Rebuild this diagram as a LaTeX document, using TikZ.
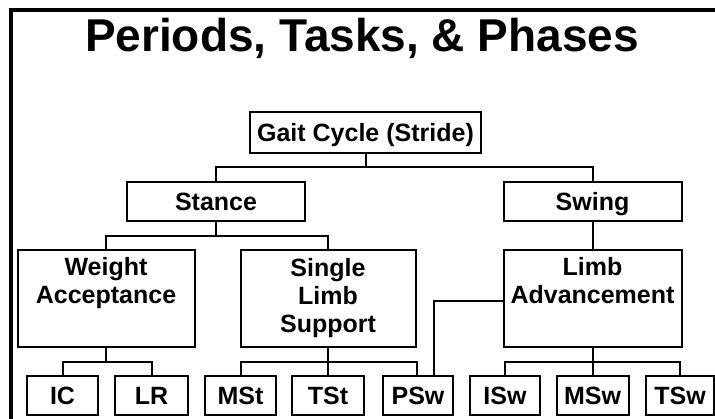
\documentclass[tikz,border=0pt]{standalone}
\usepackage{fontspec}
\setmainfont{Liberation Sans}
\begin{document}
\begin{tikzpicture}[x=1pt,y=-1pt,
  box/.style={draw, line width=2pt, rectangle, inner sep=0pt,
    font=\bfseries\fontsize{25}{28}\selectfont, align=center},
  single/.style={box, text height=18pt, text depth=0pt},
  wide/.style={single, minimum width=178, minimum height=39},
  tall/.style={box, minimum width=177, minimum height=97},
  leaf/.style={single, minimum width=71, minimum height=39},
  link/.style={line width=2pt},
  frame/.style={line width=3.5pt}]
\useasboundingbox (0,0) rectangle (715,418);
% frame
\draw[frame] (11,420) -- (11,10) -- (716,10);
% title
\node[font=\bfseries\fontsize{46}{50}\selectfont, anchor=base] (title) at (362,51) {Periods, Tasks, \& Phases};
% level 1
\node[single, minimum width=231, minimum height=41] (gait) at (365.5,132.5) {Gait Cycle (Stride)};
% level 2
\node[wide] (stance) at (216,201.5) {Stance};
\node[wide] (swing) at (592.5,201.5) {Swing};
% level 3
\node[tall] (wa) at (106,298.5) {Weight\\Acceptance\\\strut};
\node[tall, minimum width=175] (sls) at (328,298.5) {Single\\Limb\\Support};
\node[tall, minimum width=178] (la) at (592.5,298.5) {Limb\\Advancement\\\strut};
% level 4
\node[leaf] (ic) at (62.5,395.5) {IC};
\node[leaf, minimum width=73] (lr) at (151.5,395.5) {LR};
\node[leaf] (mst) at (240.5,395.5) {MSt};
\node[leaf, minimum width=72] (tst) at (328,395.5) {TSt};
\node[leaf, minimum width=70] (psw) at (418,395.5) {PSw};
\node[leaf, minimum width=70] (isw) at (505,395.5) {ISw};
\node[leaf, minimum width=72] (msw) at (592.5,395.5) {MSw};
\node[leaf, minimum width=68] (tsw) at (680,395.5) {TSw};
% junctions
\coordinate (j1) at (365.5,167);
\coordinate (j2) at (216,236);
\coordinate (j3) at (106,362);
\coordinate (j4) at (328,362);
\coordinate (j5) at (592.5,362);
% connectors
\draw[link] (gait.south) -- (j1);
\draw[link] (stance.north) |- (j1) -| (swing.north);
\draw[link] (stance.south) -- (j2);
\draw[link] (wa.north) |- (j2) -| (sls.north);
\draw[link] (swing.south) -- (la.north);
\draw[link] (wa.south) -- (j3);
\draw[link] (ic.north) |- (j3) -| (lr.north);
\draw[link] (sls.south) -- (tst.north);
\draw[link] (mst.north) |- (j4) -| ([xshift=-1pt]psw.north);
\draw[link] ([yshift=-2.5pt]la.west) -| ([xshift=16pt]psw.north);
\draw[link] (la.south) -- (msw.north);
\draw[link] (isw.north) |- (j5) -| (tsw.north);
\end{tikzpicture}
\end{document}
